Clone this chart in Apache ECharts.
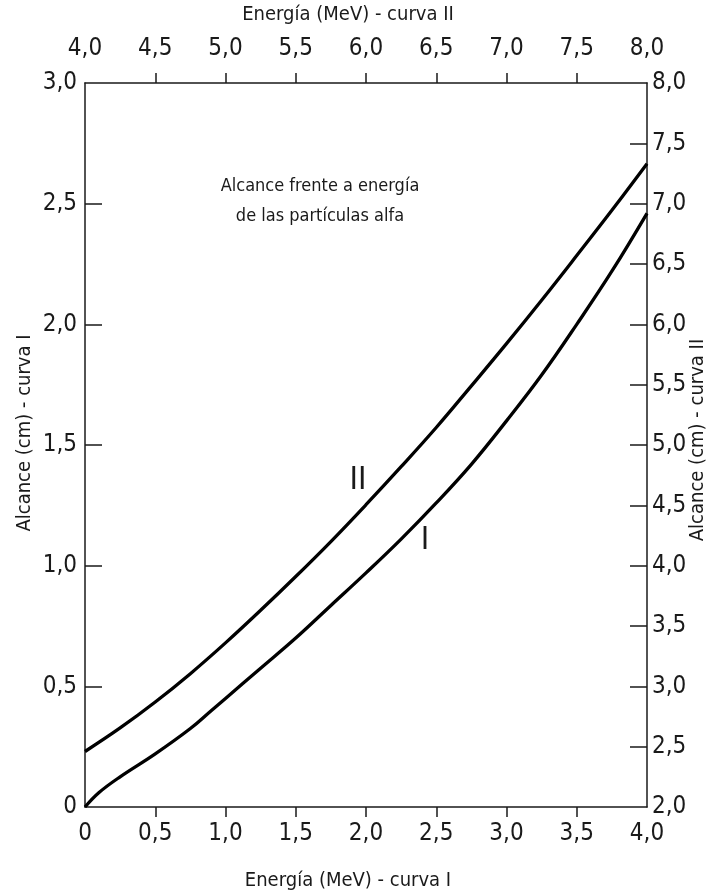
<!DOCTYPE html>
<html>
<head>
<meta charset="utf-8">
<title>Alcance frente a energía</title>
<script src="https://cdn.jsdelivr.net/npm/echarts@6/dist/echarts.min.js"></script>
<style>
	html, body { margin: 0; padding: 0; background: #fff; }
	#chart { width: 708px; height: 895px; }
</style>
</head>
<body>
<div id="chart"></div>
<script>
	//curva I: energía 0-4 MeV, alcance 0-3 cm
	var energia_I = [0, 0.1, 0.25, 0.5, 0.75, 0.9, 1.0, 1.25, 1.5, 1.75, 2.0, 2.25, 2.5, 2.75, 3.0, 3.25, 3.5, 3.75, 4.0];
	var alcance_I = [0, 0.06, 0.125, 0.22, 0.325, 0.40, 0.45, 0.575, 0.70, 0.835, 0.97, 1.11, 1.26, 1.42, 1.60, 1.79, 2.00, 2.22, 2.46];
	//curva II: energía 4-8 MeV, alcance 2-8 cm
	var energia_II = [4.0, 4.25, 4.5, 4.75, 5.0, 5.25, 5.5, 5.75, 6.0, 6.25, 6.5, 6.75, 7.0, 7.25, 7.5, 7.75, 8.0];
	var alcance_II = [2.46, 2.655, 2.87, 3.105, 3.36, 3.63, 3.91, 4.20, 4.505, 4.82, 5.145, 5.49, 5.84, 6.20, 6.57, 6.945, 7.33];
	//marcas de los ejes
	var ticks_x_I = [0.5, 1.0, 1.5, 2.0, 2.5, 3.0, 3.5];
	var ticks_x_II = [4.5, 5.0, 5.5, 6.0, 6.5, 7.0, 7.5];
	var ticks_y_I = [0.5, 1.0, 1.5, 2.0, 2.5];
	var ticks_y_II = [2.5, 3.0, 3.5, 4.0, 4.5, 5.0, 5.5, 6.0, 6.5, 7.0, 7.5];

	var fuente = "'Liberation Sans Narrow', 'DejaVu Sans Condensed', sans-serif";
	var negro = '#1a1a1a';

	function pares(xs, ys) {
		var out = [];
		for(var i = 0; i < xs.length; i++) {
			out.push([xs[i], ys[i]]);
		}
		return out;
	}

	//formato con coma decimal
	function coma(v) {
		if(v === 0) return '0';
		return v.toFixed(1).replace('.', ',');
	}

	function eje_x(pos, min, max, ticks, nombre, nameGap, labelMargin) {
		return {
			type: 'value',
			position: pos,
			min: min,
			max: max,
			interval: 0.5,
			splitLine: { show: false },
			axisLine: { show: true, onZero: false, lineStyle: { color: negro, width: 1.5 } },
			axisTick: { show: true, inside: false, length: 10, customValues: ticks, lineStyle: { color: negro, width: 1.5 } },
			axisLabel: { formatter: coma, color: negro, fontFamily: fuente, fontSize: 24, margin: labelMargin, showMinLabel: true, showMaxLabel: true },
			name: nombre,
			nameLocation: 'middle',
			nameGap: nameGap,
			nameTextStyle: { color: negro, fontFamily: fuente, fontSize: 20, padding: [0, 36, 0, 0] }
		};
	}

	function eje_y(pos, min, max, ticks, nombre, nameGap, labelMargin, pad) {
		return {
			type: 'value',
			position: pos,
			min: min,
			max: max,
			interval: 0.5,
			splitLine: { show: false },
			axisLine: { show: true, onZero: false, lineStyle: { color: negro, width: 1.5 } },
			axisTick: { show: true, inside: true, length: 17, customValues: ticks, lineStyle: { color: negro, width: 1.5 } },
			axisLabel: { formatter: coma, color: negro, fontFamily: fuente, fontSize: 24, margin: labelMargin, showMinLabel: true, showMaxLabel: true },
			name: nombre,
			nameLocation: 'middle',
			nameRotate: 90,
			nameGap: nameGap,
			nameMoveOverlap: false,
			nameTextStyle: { color: negro, fontFamily: fuente, fontSize: 20, padding: pad }
		};
	}

	var myChart = echarts.init(document.getElementById('chart'), null, { renderer: 'canvas' });

	var option = {
		backgroundColor: '#fff',
		animation: false,
		grid: { left: 85, top: 83, width: 562, height: 724, containLabel: false, outerBoundsMode: 'none' },
		xAxis: [
			eje_x('bottom', 0, 4, ticks_x_I, 'Energía (MeV) - curva I', 64, 15),
			eje_x('top', 4, 8, ticks_x_II, 'Energía (MeV) - curva II', 58, 22)
		],
		yAxis: [
			eje_y('left', 0, 3, ticks_y_I, 'Alcance (cm) - curva I', 50, 8, [0, 0, 0, 24]),
			eje_y('right', 2, 8, ticks_y_II, 'Alcance (cm) - curva II', 41, 5, [0, 0, 0, 10])
		],
		graphic: [
			{
				type: 'text',
				x: 320,
				y: 171,
				style: {
					text: 'Alcance frente a energía\nde las partículas alfa',
					align: 'center',
					font: '18px ' + fuente,
					lineHeight: 30,
					fill: negro
				}
			},
			{
				type: 'text',
				x: 358,
				y: 481,
				style: { text: 'II', align: 'center', verticalAlign: 'middle', font: '32px ' + fuente, fill: negro }
			},
			{
				type: 'text',
				x: 425,
				y: 541,
				style: { text: 'I', align: 'center', verticalAlign: 'middle', font: '32px ' + fuente, fill: negro }
			}
		],
		series: [
			{
				name: 'curva I',
				type: 'line',
				xAxisIndex: 0,
				yAxisIndex: 0,
				smooth: 0.4,
				showSymbol: false,
				lineStyle: { color: '#000', width: 3.3 },
				data: pares(energia_I, alcance_I)
			},
			{
				name: 'curva II',
				type: 'line',
				xAxisIndex: 1,
				yAxisIndex: 1,
				smooth: 0.4,
				showSymbol: false,
				lineStyle: { color: '#000', width: 3.3 },
				data: pares(energia_II, alcance_II)
			}
		]
	};
	myChart.setOption(option);
</script>
</body>
</html>
